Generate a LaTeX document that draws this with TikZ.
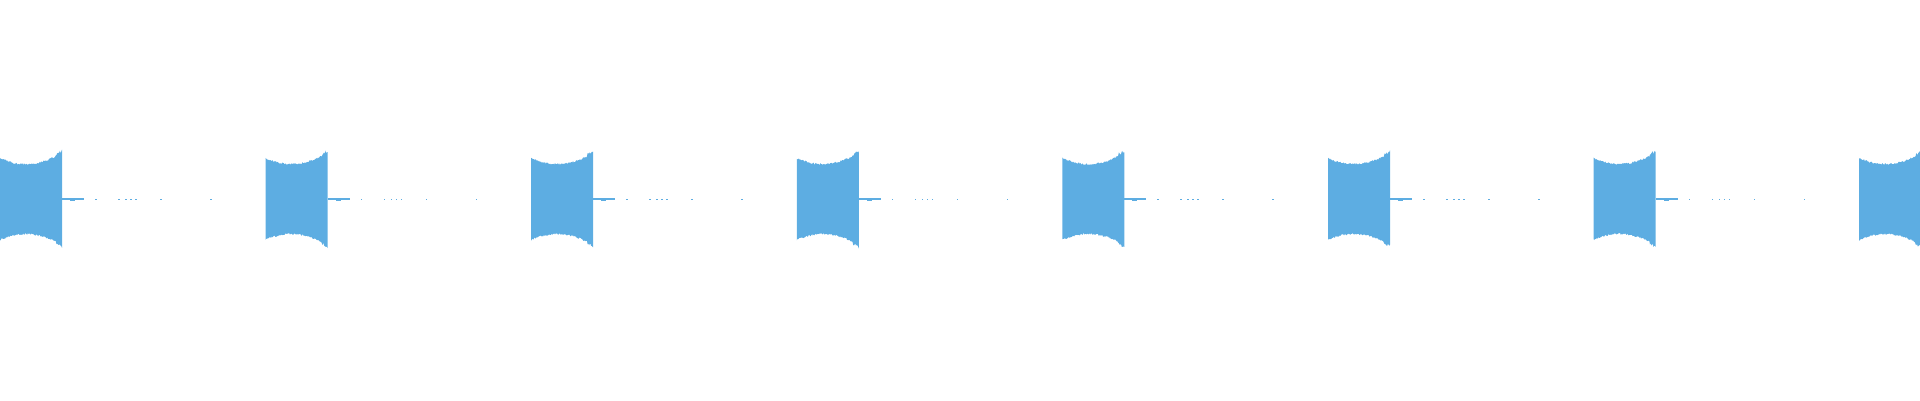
\documentclass[tikz,border=0pt]{standalone}
\definecolor{wave}{HTML}{5DADE2}
\begin{document}
\begin{tikzpicture}[x=1pt,y=-1pt,burst/.style={fill=wave,draw=none}]
\useasboundingbox (0,0) rectangle (1920,400);
\pgfmathsetseed{7}
\foreach \i in {0,...,7}{
  \pgfmathsetmacro{\xo}{\i*265.6}
  \begin{scope}[shift={(\xo,0)}]
    \clip (-1,0) rectangle (1920-\xo,400);
    \fill[burst] plot[domain=0:62,samples=90] (\x,{199-(34+9*((\x-26)/32)^2)-1.8*rnd-3*(\x>56)*rnd})
      -- plot[domain=62:0,samples=90] (\x,{199+(34+9*((\x-26)/32)^2)+1.8*rnd+3*(\x>56)*rnd}) -- cycle;
    \fill[wave] (62,198.4) rectangle (84,199.6);
    \fill[wave] (70,197.5) rectangle (75,200.5);
    \foreach \d in {95,118,125,130,135,160,210}{
      \fill[wave] (\d,198.5) rectangle (\d+1.5,199.5);
    }
  \end{scope}
}
\end{tikzpicture}
\end{document}
